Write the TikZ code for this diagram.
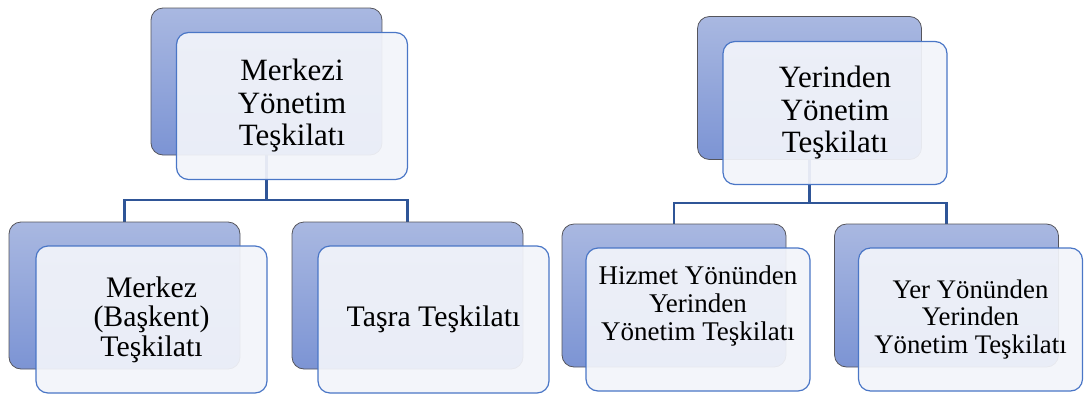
\documentclass[tikz,border=0pt]{standalone}
\usepackage{fontspec}
\setmainfont{Liberation Serif}
\definecolor{backtop}{HTML}{A9B8E1}
\definecolor{backbot}{HTML}{7C94D4}
\definecolor{backedge}{HTML}{55555C}
\definecolor{frontfill}{HTML}{F2F4FA}
\definecolor{frontedge}{HTML}{4A76C6}
\definecolor{conn}{HTML}{2F5597}
\begin{document}
\begin{tikzpicture}[x=1pt,y=-1pt,
  backbox/.style={rectangle, rounded corners=12pt, draw=backedge, line width=0.8pt,
    top color=backtop, bottom color=backbot, inner sep=0pt},
  frontbox/.style={rectangle, rounded corners=12pt, draw=frontedge, line width=1.2pt,
    fill=frontfill, fill opacity=0.93, text opacity=1, inner sep=0pt, align=center},
  lw/.style={minimum width=231pt, minimum height=147pt},
  rw/.style={minimum width=224pt, minimum height=143pt},
  connector/.style={draw=conn, line width=2.4pt}
]
\useasboundingbox (0,0) rectangle (1089,394);
% coordinates for the bars
\coordinate (barL) at (0,200);
\coordinate (barR) at (0,203);
% back boxes (positions)
\coordinate (pTLb) at (266.5,81.5);
\coordinate (pBLb) at (124.5,295.5);
\coordinate (pBMb) at (407.5,295.5);
\coordinate (pTRb) at (809.5,88);
\coordinate (pBR1b) at (674,295.5);
\coordinate (pBR2b) at (946.5,295.5);
% connectors first (under the boxes)
\draw[connector] (pTLb) -- (pTLb |- barL) -| (pBLb);
\draw[connector] (pTLb |- barL) -| (pBMb);
\draw[connector] (pTRb) -- (pTRb |- barR) -| (pBR1b);
\draw[connector] (pTRb |- barR) -| (pBR2b);
% back boxes
\node[backbox,lw] (TLb) at (pTLb) {};
\node[backbox,lw] (BLb) at (pBLb) {};
\node[backbox,lw] (BMb) at (pBMb) {};
\node[backbox,rw] (TRb) at (pTRb) {};
\node[backbox,rw] (BR1b) at (pBR1b) {};
\node[backbox,rw] (BR2b) at (pBR2b) {};
% front boxes with text
\node[frontbox,lw,font=\fontsize{31}{32.5}\selectfont] (TL) at (292,106) {Merkezi\\Yönetim\\Teşkilatı};
\node[frontbox,lw,font=\fontsize{29.8}{29.5}\selectfont] (BL) at (151.5,319.5) {Merkez\\(Başkent)\\Teşkilatı};
\node[frontbox,lw,font=\fontsize{29.8}{30}\selectfont] (BM) at (433.5,319.5) {Taşra Teşkilatı};
\node[frontbox,rw,font=\fontsize{31}{32.5}\selectfont] (TR) at (835,113) {Yerinden\\Yönetim\\Teşkilatı};
\node[frontbox,rw] (BR1) at (698,319.5) {};
\node[font=\fontsize{27}{28}\selectfont, align=center] (BR1t) at (698,306) {Hizmet Yönünden\\Yerinden\\Yönetim Teşkilatı};
\node[frontbox,rw,font=\fontsize{26.8}{27.5}\selectfont] (BR2) at (970.5,319.5) {Yer Yönünden\\Yerinden\\Yönetim Teşkilatı};
\end{tikzpicture}
\end{document}
